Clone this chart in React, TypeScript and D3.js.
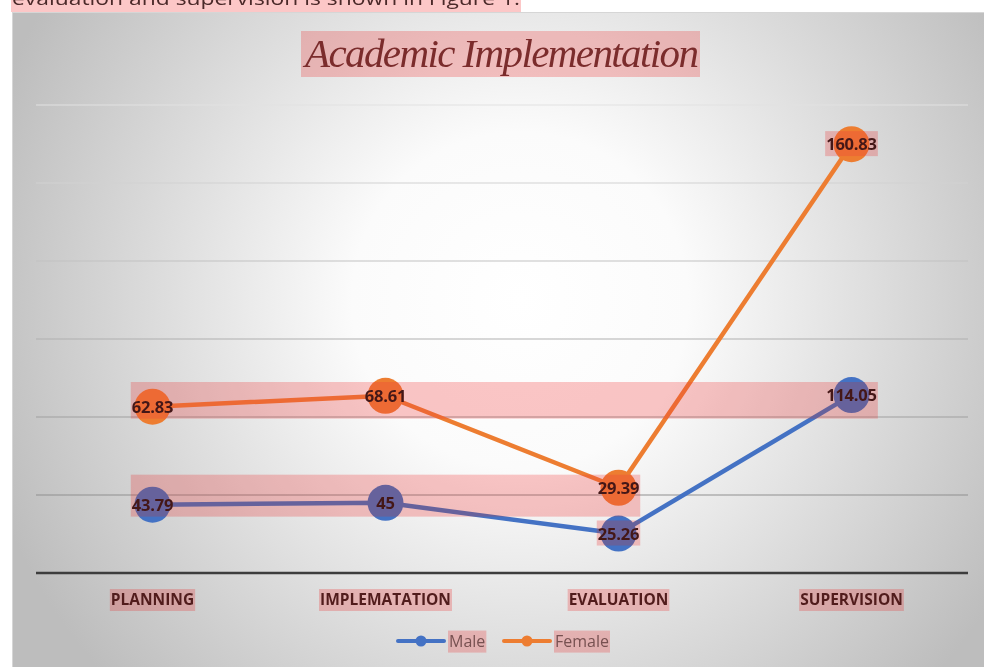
import React, { useRef, useEffect } from 'react';
import * as d3 from 'd3';

// chart values
const categories = ['PLANNING', 'IMPLEMATATION', 'EVALUATION', 'SUPERVISION'];
const maleValues = [43.79, 45, 25.26, 114.05];
const femaleValues = [62.83, 68.61, 29.39, 160.83];
const seriesNames = ['Male', 'Female'];
const yTicks = [0, 50, 100, 150, 200, 250, 300];
const titleText = 'Academic Implementation';
const captionText = 'evaluation and supervision is shown in Figure 1.';

const W = 984;
const H = 667;
const colors = { Male: '#4472C4', Female: '#ED7D31' };

const App = () => {
    const ref = useRef(null);

    useEffect(() => {
        const svg = d3.select(ref.current);
        svg.selectAll('*').remove();

        const rows = categories.map((c, i) => ({ cat: c, Male: maleValues[i], Female: femaleValues[i] }));
        // stacked line chart: female sits on top of male
        const stacked = d3.stack().keys(seriesNames)(rows);

        const x = d3.scaleBand().domain(categories).range([36, 968]);
        const cx = (c) => x(c) + x.bandwidth() / 2;
        const y = d3.scaleLinear().domain([0, 300]).range([573, 105]);

        // --- background ---
        const defs = svg.append('defs');
        const grad = defs.append('radialGradient')
            .attr('id', 'bg')
            .attr('gradientUnits', 'userSpaceOnUse')
            .attr('cx', 520).attr('cy', 300).attr('r', 560);
        grad.append('stop').attr('offset', '0%').attr('stop-color', '#ffffff');
        grad.append('stop').attr('offset', '30%').attr('stop-color', '#fbfbfb');
        grad.append('stop').attr('offset', '100%').attr('stop-color', '#bdbdbd');

        svg.append('rect')
            .attr('x', 12.5).attr('y', 12.5)
            .attr('width', W - 12).attr('height', H - 12)
            .attr('fill', 'url(#bg)')
            .attr('stroke', '#d6d6d6');

        // caption text, cut off at the top of the page as in the source document
        svg.append('text')
            .attr('class', 'hl')
            .attr('x', 12).attr('y', 5)
            .attr('font-family', 'Open Sans, sans-serif')
            .attr('font-size', 19)
            .attr('textLength', 508)
            .attr('lengthAdjust', 'spacingAndGlyphs')
            .attr('fill', '#222')
            .text(captionText);

        // --- grid ---
        const gridColor = d3.scaleLinear().domain([300, 50]).range(['#e2e2e2', '#8f8f8f']);
        svg.append('g')
            .selectAll('line')
            .data(yTicks.filter(t => t > 0))
            .join('line')
            .attr('x1', 36).attr('x2', 968)
            .attr('y1', d => y(d)).attr('y2', d => y(d))
            .attr('stroke', d => gridColor(d))
            .attr('stroke-width', 1.2);

        svg.append('line')
            .attr('x1', 36).attr('x2', 968)
            .attr('y1', y(0)).attr('y2', y(0))
            .attr('stroke', '#3d3d3d')
            .attr('stroke-width', 2.5);

        // --- lines & markers ---
        const line = d3.line()
            .x(d => cx(d.data.cat))
            .y(d => y(d[1]));

        stacked.forEach(s => {
            svg.append('path')
                .datum(s)
                .attr('fill', 'none')
                .attr('stroke', colors[s.key])
                .attr('stroke-width', 4.5)
                .attr('stroke-linejoin', 'round')
                .attr('d', line);
        });

        stacked.forEach(s => {
            svg.append('g')
                .selectAll('circle')
                .data(s)
                .join('circle')
                .attr('cx', d => cx(d.data.cat))
                .attr('cy', d => y(d[1]))
                .attr('r', 18)
                .attr('fill', colors[s.key]);
        });

        // --- data labels ---
        stacked.forEach(s => {
            svg.append('g')
                .selectAll('text')
                .data(s)
                .join('text')
                .attr('id', (d, i) => `${s.key[0].toLowerCase()}${i}`)
                .attr('x', d => cx(d.data.cat))
                .attr('y', d => y(d[1]))
                .attr('dy', '0.36em')
                .attr('text-anchor', 'middle')
                .attr('font-family', 'Open Sans, sans-serif')
                .attr('font-weight', 700)
                .attr('font-size', 16.5)
                .attr('letter-spacing', -0.2)
                .attr('fill', '#1a0808')
                .text(d => d.data[s.key]);
        });

        // --- category labels ---
        svg.append('g')
            .selectAll('text')
            .data(categories)
            .join('text')
            .attr('class', 'hl')
            .attr('x', d => cx(d))
            .attr('y', 605)
            .attr('text-anchor', 'middle')
            .attr('font-family', 'Open Sans, sans-serif')
            .attr('font-weight', 700)
            .attr('font-size', 15.5)
            .attr('fill', '#2a1010')
            .text(d => d);

        // --- title ---
        svg.append('text')
            .attr('class', 'hl')
            .attr('x', 502).attr('y', 67)
            .attr('text-anchor', 'middle')
            .attr('font-family', 'Liberation Serif, serif')
            .attr('font-style', 'italic')
            .attr('font-size', 41)
            .attr('textLength', 394)
            .attr('fill', '#5e2626')
            .text(titleText);

        // --- legend ---
        const legendX = { Male: 398, Female: 504 };
        seriesNames.forEach(k => {
            const lx = legendX[k];
            svg.append('line').attr('x1', lx).attr('x2', lx + 46).attr('y1', 641).attr('y2', 641)
                .attr('stroke', colors[k]).attr('stroke-width', 4).attr('stroke-linecap', 'round');
            svg.append('circle').attr('cx', lx + 23).attr('cy', 641).attr('r', 5.5).attr('fill', colors[k]);
            svg.append('text')
                .attr('class', 'hl')
                .attr('x', lx + 51).attr('y', 641).attr('dy', '0.35em')
                .attr('font-family', 'Open Sans, sans-serif')
                .attr('font-size', 16)
                .attr('fill', '#595959')
                .text(k);
        });

        // --- pdf-style pink highlight boxes laid over everything ---
        const boxes = [];
        svg.selectAll('text.hl').each(function () {
            const b = this.getBBox();
            boxes.push({ x: b.x - 1, y: b.y + 1, w: b.width + 2, h: b.height });
        });
        const labelGroups = [['f0', 'f1', 'm3'], ['m0', 'm1', 'f2'], ['m2'], ['f3']];
        labelGroups.forEach(ids => {
            const bb = ids.map(id => svg.select(`#${id}`).node().getBBox());
            const x0 = d3.min(bb, b => b.x) - 1;
            const x1 = d3.max(bb, b => b.x + b.width) + 1;
            const y0 = d3.min(bb, b => b.y) - 1;
            const y1 = d3.max(bb, b => b.y + b.height) + 1;
            boxes.push({ x: x0, y: y0, w: x1 - x0, h: y1 - y0 });
        });

        // a light tint plus a multiply layer, so marks under it shift towards pink
        const hl = svg.append('g');
        hl.selectAll('rect.tint')
            .data(boxes)
            .join('rect')
            .attr('class', 'tint')
            .attr('x', d => d.x).attr('y', d => d.y)
            .attr('width', d => d.w).attr('height', d => d.h)
            .attr('fill', '#f06060')
            .attr('fill-opacity', 0.2);
        hl.selectAll('rect.mult')
            .data(boxes)
            .join('rect')
            .attr('class', 'mult')
            .attr('x', d => d.x).attr('y', d => d.y)
            .attr('width', d => d.w).attr('height', d => d.h)
            .attr('fill', '#ffe4e4')
            .style('mix-blend-mode', 'multiply');
    }, []);

    return (
        <svg
            ref={ref}
            width={W}
            height={H}
            style={{ position: 'absolute', left: 0, top: 0, display: 'block', background: '#fff' }}
        />
    );
};

export default App;
